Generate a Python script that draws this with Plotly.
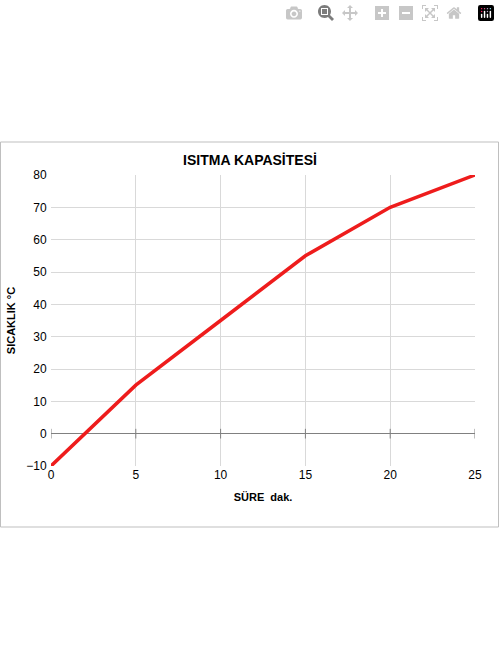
import plotly.graph_objects as go

minutes = [0, 5, 10, 15, 20, 25]
temps = [-10, 15, 35, 55, 70, 80]

fig = go.Figure()
fig.add_trace(go.Scatter(x=minutes, y=temps, mode="lines",
                         line=dict(color="#ee1c1c", width=3.5), showlegend=False))
fig.update_layout(
    width=500, height=667, paper_bgcolor="white", plot_bgcolor="white",
    margin=dict(l=51, r=25, t=175, b=201),
    font=dict(family="Liberation Sans, Arial", size=12, color="black"),
    title=dict(text="<b>ISITMA KAPASİTESİ</b>", x=0.5, xanchor="center",
               y=1 - 160/667, yanchor="middle", font=dict(size=14)),
    xaxis=dict(range=[0, 25], tickvals=minutes, showgrid=True, gridcolor="#d9d9d9",
               zeroline=False, showline=False, ticks="", ticklen=0,
               title=dict(text="<b>SÜRE  dak.</b>", font=dict(size=11), standoff=12)),
    yaxis=dict(range=[-10, 80], dtick=10, showgrid=True, gridcolor="#d9d9d9",
               zeroline=True, zerolinecolor="#808080", zerolinewidth=1,
               showline=False, ticks="", ticksuffix=" ",
               title=dict(text="<b>SICAKLIK °C</b>", font=dict(size=11), standoff=8)),
    shapes=[dict(type="rect", xref="paper", yref="paper",
                 x0=-50.5/424, x1=(498.5-51)/424, y0=(466-527)/291, y1=(466-142)/291,
                 line=dict(color="#bfbfbf", width=1))],
)
for m in minutes:
    fig.add_shape(type="line", x0=m, x1=m, y0=-1.5, y1=1.5, xref="x", yref="y",
                  line=dict(color="#808080", width=1))
fig.write_html("out.html")

with open("out.html", encoding="utf-8") as f:
    html = f.read()
html = html.replace("<head>", "<head><style>html,body{margin:0;padding:0;overflow:hidden;}</style>", 1)
with open("out.html", "w", encoding="utf-8") as f:
    f.write(html)
